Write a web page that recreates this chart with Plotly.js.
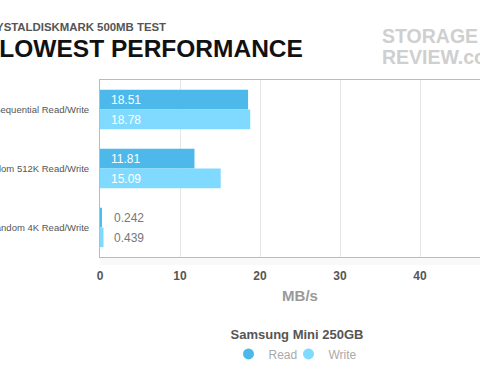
<!DOCTYPE html>
<html><head><meta charset="utf-8">
<script src="https://cdn.plot.ly/plotly-3.0.1.min.js"></script>
<style>
html,body{margin:0;padding:0;width:480px;height:380px;overflow:hidden;background:#fff;}
#chart{position:absolute;left:-100px;top:0;width:700px;height:380px;}
</style></head><body>
<div id="chart"></div>
<script>
var categories = ["Sequential Read/Write", "Random 512K Read/Write", "Random 4K Read/Write"];
var readValues = [18.51, 11.81, 0.242];
var writeValues = [18.78, 15.09, 0.439];
var readLabels = ["18.51", "11.81", "0.242"];
var writeLabels = ["18.78", "15.09", "0.439"];
var seriesNames = ["Read", "Write"];
var xTicks = [0, 10, 20, 30, 40, 50];

var readColor = "#4db9eb";
var writeColor = "#80daff";
var FONT = "Liberation Sans, Arial, Helvetica, sans-serif";

var traces = [
  {type:"bar", orientation:"h", name:seriesNames[0], y:categories, x:readValues,
   marker:{color:readColor}, showlegend:false, hoverinfo:"x"},
  {type:"bar", orientation:"h", name:seriesNames[1], y:categories, x:writeValues,
   marker:{color:writeColor}, showlegend:false, hoverinfo:"x"},
  {type:"scatter", mode:"markers", name:seriesNames[0], x:[null], y:[null],
   marker:{color:readColor, size:11, symbol:"circle"}, showlegend:true},
  {type:"scatter", mode:"markers", name:seriesNames[1], x:[null], y:[null],
   marker:{color:writeColor, size:11, symbol:"circle"}, showlegend:true}
];

var annotations = [];
function addLabels(vals, labels, shift){
  for (var i=0;i<vals.length;i++){
    var inside = vals[i] > 5;
    annotations.push({x:0, y:categories[i], xref:"x", yref:"y", xanchor:"left", yanchor:"middle",
      xshift: inside ? 9 : 12, yshift: shift, text: labels[i], showarrow:false,
      font:{family:FONT, size:12, color: inside ? "#ffffff" : "#777777"}});
  }
}
addLabels(readValues, readLabels, 10);
addLabels(writeValues, writeLabels, -10);

annotations.push({xref:"paper", yref:"paper", x:0.17, y:1.302, xanchor:"right", yanchor:"middle",
  text:"<b>CRYSTALDISKMARK 500MB TEST</b>", showarrow:false, font:{family:FONT, size:11.4, color:"#555555"}});
annotations.push({xref:"paper", yref:"paper", x:0.5125, y:1.176, xanchor:"right", yanchor:"middle",
  text:"<b>SLOWEST PERFORMANCE</b>", showarrow:false, font:{family:FONT, size:24.5, color:"#111111"}});
annotations.push({xref:"paper", yref:"paper", x:0.7025, y:1.246, xanchor:"left", yanchor:"middle", borderpad:0,
  text:"<b>STORAGE</b>", showarrow:false, font:{family:FONT, size:19.5, color:"#cfcfcf"}});
annotations.push({xref:"paper", yref:"paper", x:0.7025, y:1.132, xanchor:"left", yanchor:"middle", borderpad:0,
  text:"<b>REVIEW.com</b>", showarrow:false, font:{family:FONT, size:19.5, color:"#cfcfcf"}});

var layout = {
  width:700, height:380,
  margin:{l:200, r:100, t:80, b:121, pad:0},
  paper_bgcolor:"#ffffff", plot_bgcolor:"#ffffff",
  barmode:"group", bargap:0.333, bargroupgap:0,
  font:{family:FONT},
  xaxis:{range:[0,50], tickvals:xTicks, showgrid:true, gridcolor:"#e6e6e6", gridwidth:1,
    zeroline:false, showline:true, linecolor:"#bbbbbb", linewidth:1, mirror:true,
    ticks:"", ticklabelstandoff:8,
    tickfont:{family:FONT, size:12, color:"#555555", weight:"bold"},
    title:{text:"<b>MB/s</b>", font:{family:FONT, size:15, color:"#999999"}, standoff:8},
    fixedrange:true},
  yaxis:{autorange:"reversed", showgrid:false, zeroline:false, showline:true, linecolor:"#bbbbbb",
    linewidth:1, mirror:true, ticks:"", ticklabelstandoff:8,
    tickfont:{family:FONT, size:9.5, color:"#555555"}, fixedrange:true},
  legend:{orientation:"h", x:0.4925, xanchor:"center", y:-0.37, yanchor:"top",
    title:{text:"<b>Samsung Mini 250GB</b>", side:"top center", font:{family:FONT, size:13, color:"#555555"}},
    font:{family:FONT, size:12, color:"#aaaaaa"}, itemwidth:30, entrywidth:15, entrywidthmode:"pixels",
    bgcolor:"rgba(0,0,0,0)"},
  shapes:[
    {type:"rect", xref:"paper", yref:"paper", x0:0, x1:1, y0:-0.045, y1:0, line:{width:0}, fillcolor:"rgba(0,0,0,0.025)", layer:"below"}
  ],
  annotations:annotations,
  showlegend:true
};

Plotly.newPlot("chart", traces, layout, {displayModeBar:false, staticPlot:true});
</script>
</body></html>
